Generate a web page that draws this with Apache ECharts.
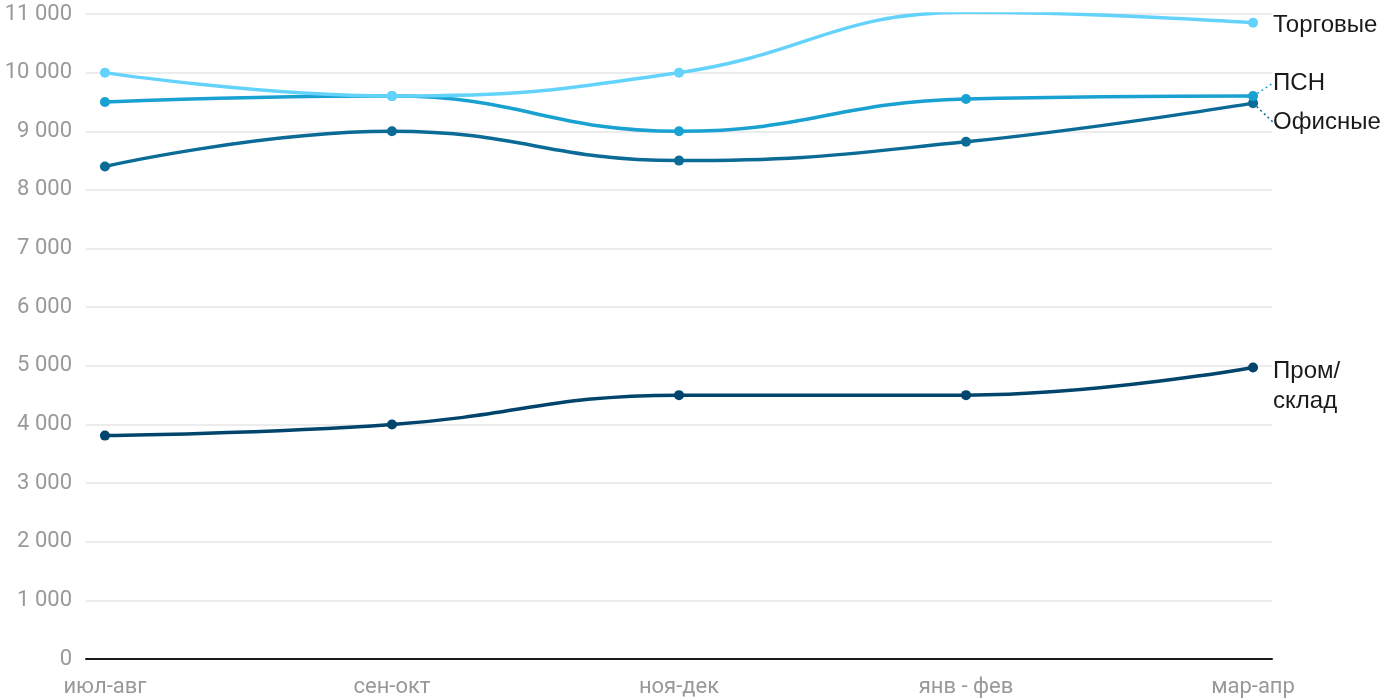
<!DOCTYPE html>
<html><head><meta charset="utf-8">
<script src="https://cdn.jsdelivr.net/npm/echarts@6/dist/echarts.min.js"></script>
<style>html,body{margin:0;padding:0;background:#fff}#c{width:1400px;height:700px}</style>
</head><body><div id="c"></div>
<script>
var categories = ['июл-авг', 'сен-окт', 'ноя-дек', 'янв - фев', 'мар-апр'];
var seriesNames = ['Торговые', 'ПСН', 'Офисные', 'Пром/\nсклад'];
var torgovye = [10000, 9600, 10000, 11030, 10850];
var psn = [9500, 9600, 9000, 9550, 9600];
var ofisnye = [8400, 9000, 8500, 8820, 9480];
var prom = [3810, 4000, 4500, 4500, 4970];
var colors = ['#64d3fb', '#18a1d1', '#0a6b97', '#01456c'];
var labelDy = [3, -13, 19, 19];

function pts(arr) { return arr.map(function (v, i) { return [i, v]; }); }

var all = [torgovye, psn, ofisnye, prom];
var series = all.map(function (arr, k) {
  var d = pts(arr);
  var last = d.length - 1;
  var data = d.map(function (p, i) {
    if (i !== last) return p;
    return {
      value: p,
      label: {
        show: true, position: 'right', distance: 15,
        formatter: seriesNames[k], color: '#1a1a1a', fontSize: 24,
        fontFamily: 'Liberation Sans', lineHeight: 30
      },
      labelLine: { show: (k === 1 || k === 2), length2: 0, lineStyle: { color: colors[k], type: [2, 3], width: 1.5 } }
    };
  });
  return {
    name: seriesNames[k], type: 'line', data: data, smooth: 0.45,
    symbol: 'circle', symbolSize: 10, showSymbol: true,
    lineStyle: { width: 3.5, color: colors[k] },
    itemStyle: { color: colors[k] },
    labelLayout: { dy: labelDy[k] },
    z: 10 - k, animation: false
  };
});

var chart = echarts.init(document.getElementById('c'));
chart.setOption({
  animation: false,
  grid: { left: 86, right: 128, top: 14, bottom: 41, containLabel: false },
  xAxis: {
    type: 'value', min: -0.066, max: 4.066,
    axisLine: { show: true, onZero: true, lineStyle: { color: '#1a1a1a', width: 2 } },
    axisTick: { show: false },
    splitLine: { show: false },
    axisLabel: {
      customValues: [0, 1, 2, 3, 4], showMinLabel: true, showMaxLabel: true,
      formatter: function (v) { return categories[Math.round(v)]; },
      color: '#999', fontSize: 22, fontFamily: 'Roboto', margin: 17
    }
  },
  yAxis: {
    type: 'value', min: 0, max: 11000, interval: 1000,
    axisLine: { show: false }, axisTick: { show: false },
    splitLine: { lineStyle: { color: '#e6e6e6', width: 1.5 } },
    axisLabel: {
      formatter: function (v) { return String(v).replace(/\B(?=(\d{3})+(?!\d))/g, ' '); },
      color: '#999', fontSize: 22, fontFamily: 'Roboto', margin: 14
    }
  },
  series: series
});
</script></body></html>
